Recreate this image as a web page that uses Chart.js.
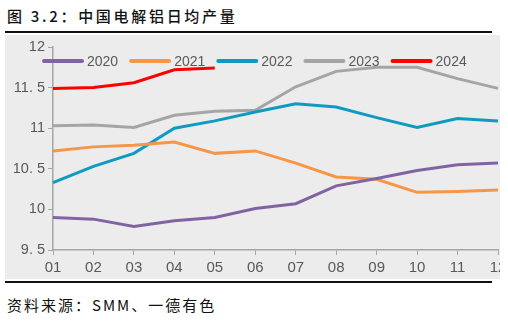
<!DOCTYPE html>
<html>
<head>
<meta charset="utf-8">
<script src="https://cdn.jsdelivr.net/npm/chart.js@4.4.0/dist/chart.umd.min.js"></script>
<style>
  html, body { margin: 0; padding: 0; background: #fff; }
  body { width: 508px; height: 321px; position: relative; overflow: hidden; }
  .title { position: absolute; left: 7px; top: 5px; font: 500 15px "Noto Sans CJK SC", sans-serif; letter-spacing: 2.7px; color: #111; }
  .rule { position: absolute; left: 5px; width: 487px; height: 2px; background: #111; }
  .box { position: absolute; left: 5px; top: 35px; width: 495px; height: 244px; overflow: hidden; background: #edecec; }
  .box canvas { position: absolute; left: 0; top: 0; }
  .source { position: absolute; left: 7px; top: 294px; font: 15px "Noto Sans CJK SC", sans-serif; letter-spacing: 2px; color: #111; }
</style>
</head>
<body>
<div class="title">图 3.2：中国电解铝日均产量</div>
<div class="rule" style="top:31px"></div>
<div class="box"><canvas id="c" width="540" height="244" style="width:540px;height:244px"></canvas></div>
<div class="rule" style="top:281px"></div>
<div class="source">资料来源：SMM、一德有色</div>
<script>
// 月份与各年日均产量（万吨）
var months = ['01', '02', '03', '04', '05', '06', '07', '08', '09', '10', '11', '12'];
var yTickLabels = { '9.5': '9. 5', '10': '10', '10.5': '10. 5', '11': '11', '11.5': '11. 5', '12': '12' };

var y2020 = [9.90, 9.88, 9.79, 9.86, 9.90, 10.01, 10.07, 10.29, 10.38, 10.48, 10.55, 10.57];
var y2021 = [10.72, 10.77, 10.79, 10.83, 10.69, 10.72, 10.57, 10.40, 10.37, 10.21, 10.22, 10.24];
var y2022 = [10.33, 10.53, 10.69, 11.00, 11.09, 11.20, 11.30, 11.26, 11.13, 11.01, 11.12, 11.09];
var y2023 = [11.03, 11.04, 11.01, 11.16, 11.21, 11.22, 11.51, 11.70, 11.75, 11.75, 11.61, 11.49];
var y2024 = [11.49, 11.50, 11.56, 11.72, 11.74];

var seriesNames = ['2020', '2021', '2022', '2023', '2024'];
var seriesColors = ['#8064a2', '#f79646', '#0f9ac0', '#a5a5a5', '#ff0000'];
var seriesData = [y2020, y2021, y2022, y2023, y2024];

var axisColor = '#a6a6a6';
var textColor = '#595959';
var numFont = '"Liberation Sans", Arial, sans-serif';

// 图例画在绘图区内部上方
var legendPlugin = {
  id: 'topLegend',
  afterDraw: function(chart) {
    var ctx = chart.ctx;
    ctx.save();
    ctx.font = '14px ' + numFont;
    ctx.textBaseline = 'middle';
    var x = 38, y = 26;
    chart.data.datasets.forEach(function(ds) {
      ctx.strokeStyle = ds.borderColor;
      ctx.lineWidth = 4;
      ctx.lineCap = 'round';
      ctx.beginPath();
      ctx.moveTo(x + 1, y);
      ctx.lineTo(x + 39, y);
      ctx.stroke();
      ctx.fillStyle = textColor;
      ctx.fillText(ds.label, x + 44, y + 1);
      x += 44 + ctx.measureText(ds.label).width + 12;
    });
    ctx.restore();
  }
};

new Chart(document.getElementById('c'), {
  type: 'line',
  data: {
    labels: months,
    datasets: seriesNames.map(function(name, i) {
      return {
        label: name,
        data: seriesData[i],
        borderColor: seriesColors[i],
        backgroundColor: seriesColors[i],
        borderWidth: 3,
        pointRadius: 0,
        tension: 0,
        fill: false
      };
    })
  },
  options: {
    responsive: false,
    animation: false,
    layout: { padding: { top: 12, right: 47, left: 0, bottom: 0 } },
    plugins: { legend: { display: false }, tooltip: { enabled: false } },
    scales: {
      x: {
        type: 'category',
        offset: false,
        grid: { drawOnChartArea: false, drawTicks: true, tickLength: 5, color: axisColor, offset: false },
        border: { display: true, color: axisColor, width: 1.5 },
        ticks: { color: textColor, font: { size: 15, family: numFont }, padding: 4, maxRotation: 0, autoSkip: false },
        afterFit: function(s) { s.height = 29; }
      },
      y: {
        min: 9.5,
        max: 12,
        grid: { drawOnChartArea: false, drawTicks: true, tickLength: 5, color: axisColor },
        border: { display: true, color: axisColor, width: 1.5 },
        ticks: {
          stepSize: 0.5,
          color: textColor,
          font: { size: 14.5, family: numFont },
          padding: 3,
          callback: function(v) { return yTickLabels[String(v)] || v; }
        },
        afterFit: function(s) { s.width = 48; }
      }
    }
  },
  plugins: [legendPlugin]
});
</script>
</body>
</html>
